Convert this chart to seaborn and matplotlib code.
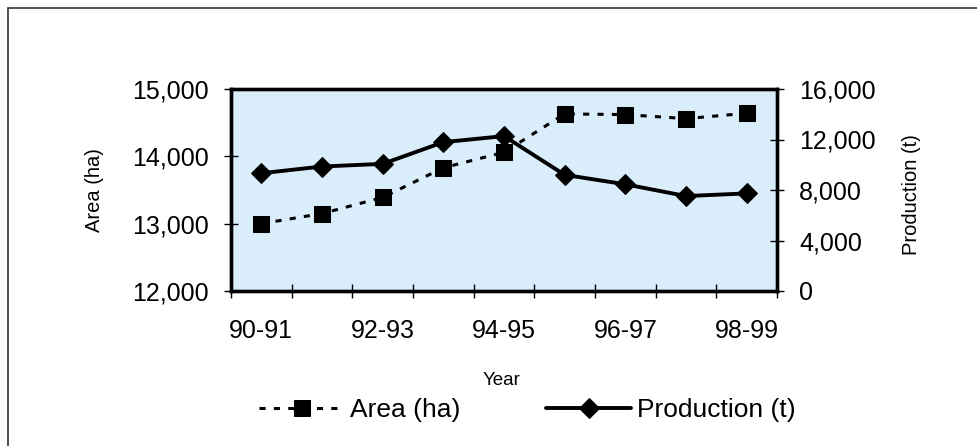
import numpy as np
import pandas as pd
import matplotlib
matplotlib.use("Agg")
import matplotlib.pyplot as plt
import matplotlib.ticker as mticker
from matplotlib.patches import Rectangle
import seaborn as sns

# ---- data ----
years = ["90-91", "91-92", "92-93", "93-94", "94-95", "95-96", "96-97", "97-98", "98-99"]
area_ha = [13000, 13150, 13390, 13830, 14060, 14630, 14620, 14560, 14640]
production_t = [9330, 9860, 10070, 11790, 12270, 9200, 8450, 7520, 7730]
left_ticks = [12000, 13000, 14000, 15000]
right_ticks = [0, 4000, 8000, 12000, 16000]
shown_year_labels = ["90-91", "92-93", "94-95", "96-97", "98-99"]

sns.set_theme(style="ticks")
plt.rcParams["font.family"] = ["Liberation Sans", "DejaVu Sans"]
plt.rcParams.update({"text.color": "black", "axes.labelcolor": "black",
                     "xtick.color": "black", "ytick.color": "black"})

W, H = 978, 446
fig = plt.figure(figsize=(W / 100, H / 100), dpi=100)
fig.patch.set_facecolor("white")
fig.subplots_adjust(left=231 / W, right=777 / W, top=1 - 89 / H, bottom=1 - 291 / H)
ax = fig.add_subplot(111)
ax.set_facecolor("#DAEDFB")

pos = np.arange(len(years))
df = pd.DataFrame({"pos": pos, "year": years, "area": area_ha, "prod": production_t})

sns.lineplot(data=df, x="pos", y="area", ax=ax, color="black", lw=2.2,
             linestyle=(0, (2.0, 2.7)), marker="s", markersize=11.5,
             markeredgecolor="black", markerfacecolor="black", label="Area (ha)",
             legend=False)

ax2 = ax.twinx()
sns.lineplot(data=df, x="pos", y="prod", ax=ax2, color="black", lw=2.8,
             marker="D", markersize=10.5, markeredgecolor="black",
             markerfacecolor="black", label="Production (t)", legend=False)

ax.set_xlim(-0.5, len(years) - 0.5)
ax.set_ylim(left_ticks[0], left_ticks[-1])
ax2.set_ylim(right_ticks[0], right_ticks[-1])
ax.set_yticks(left_ticks)
ax2.set_yticks(right_ticks)
fmt = mticker.StrMethodFormatter("{x:,.0f}")
ax.yaxis.set_major_formatter(fmt)
ax2.yaxis.set_major_formatter(fmt)

# category boundaries as major ticks, labels on minor ticks
ax.set_xticks(np.arange(len(years) + 1) - 0.5)
ax.set_xticklabels([])
lab_pos = [years.index(y) for y in shown_year_labels]
ax.set_xticks(lab_pos, minor=True)
ax.set_xticklabels(shown_year_labels, minor=True)
ax.tick_params(axis="x", which="minor", length=0, labelsize=18, pad=20)
ax.tick_params(axis="x", which="major", direction="inout", length=10, width=1)
ax.tick_params(axis="y", direction="inout", length=10, width=1, labelsize=18, pad=11)
ax2.tick_params(axis="y", direction="inout", length=10, width=1, labelsize=18, pad=11)

for a in (ax, ax2):
    for s in a.spines.values():
        s.set_linewidth(2.4)
        s.set_color("black")
        s.set_visible(True)

ax.set_xlabel("Year", fontsize=13.5)
ax.xaxis.set_label_coords((502 - 231) / 546, (291 - 372) / 202)
ax.set_ylabel("Area (ha)", fontsize=14.5)
ax.yaxis.set_label_coords((104 - 231) / 546, 0.5)
ax2.set_ylabel("Production (t)", fontsize=14.5)
ax2.yaxis.set_label_coords((902 - 231) / 546, 0.475)

h1, l1 = ax.get_legend_handles_labels()
h2, l2 = ax2.get_legend_handles_labels()
fig.legend(h1 + h2, l1 + l2, loc="center", bbox_to_anchor=(527.5 / W, 1 - 410 / H),
           ncol=2, frameon=False, fontsize=19, handlelength=3.2,
           handletextpad=0.23, columnspacing=3.26, borderpad=0)

fig.add_artist(Rectangle((8 / W, -0.2), 1.5, (1 - 8 / H) + 0.2,
                         transform=fig.transFigure, fill=False,
                         edgecolor="#333333", linewidth=1.2))

fig.savefig("out.png", dpi=100)
